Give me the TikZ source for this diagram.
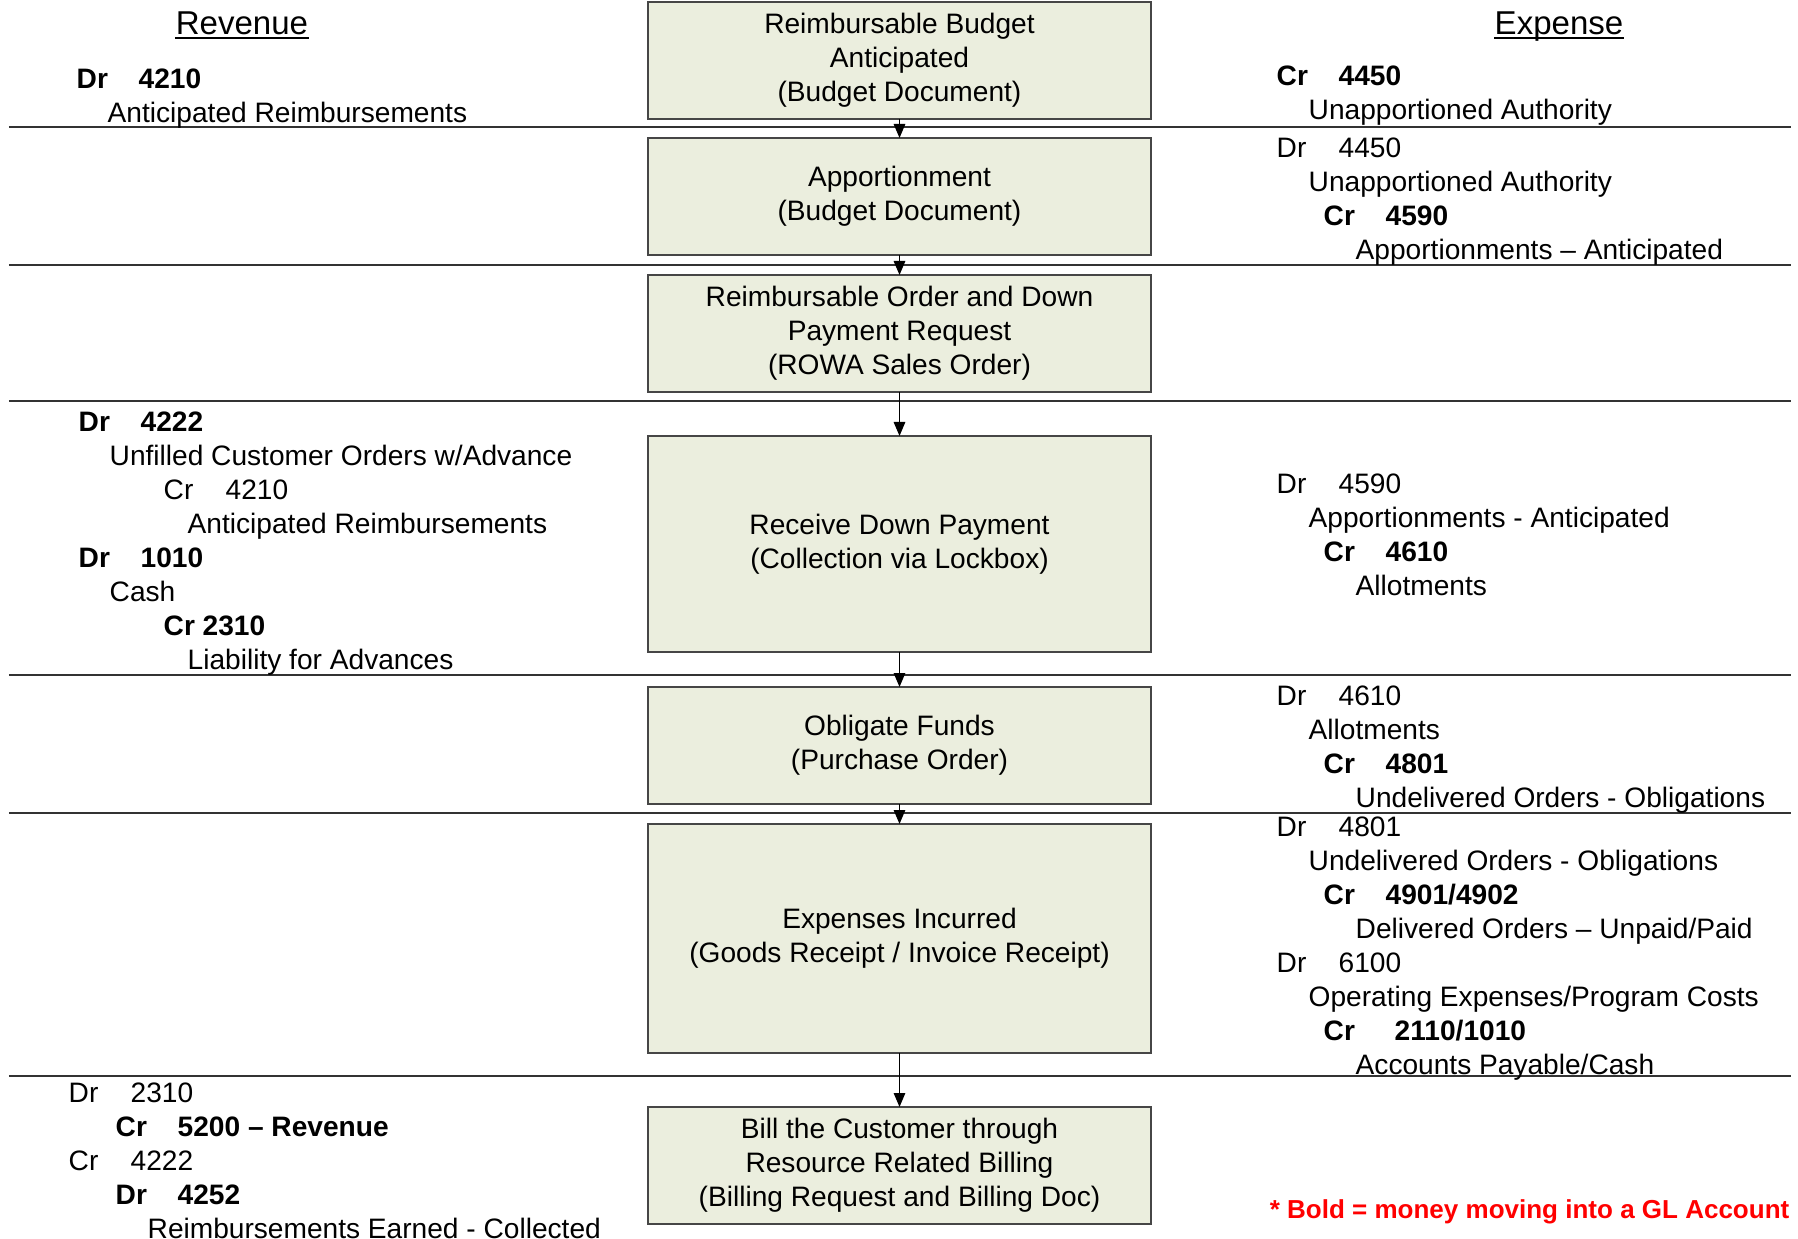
\documentclass[tikz,border=0pt]{standalone}
\usepackage{fontspec}
\setmainfont{Liberation Sans}
\usepackage{xcolor}
\usetikzlibrary{
  positioning,
  arrows.meta
}

\definecolor{boxfill}{RGB}{235,238,222}
\definecolor{boxline}{RGB}{70,70,70}
\newcommand{\dc}[3][6.2mm]{\makebox[#1][l]{#2}#3}
\newcommand{\ind}[1]{\hspace*{#1}}

\begin{document}
\begin{tikzpicture}[
  stepbox/.style={draw=boxline, line width=0.4pt, fill=boxfill, rectangle, minimum width=5.03cm, minimum height=1.17cm, inner sep=1pt, outer sep=0pt, align=center, font=\fontsize{8}{9.67}\selectfont},
  entry/.style={anchor=north west, inner sep=0pt, align=left, font=\fontsize{8}{9.67}\selectfont},
  header/.style={anchor=base, inner sep=0pt, font=\fontsize{9.4}{11}\selectfont},
  uline/.style={line width=0.4pt},
  note/.style={anchor=east, inner sep=0pt, text=red, font=\fontsize{7.4}{9}\selectfont\bfseries},
  sep/.style={draw=black!80, line width=0.45pt},
  arrow/.style={line width=0.4pt, -{Triangle[length=1.4mm, width=1.15mm]}}
]
\useasboundingbox (0,0) rectangle (17.98,-12.39);

% Process steps
\node[stepbox] (budget) at (8.995,-0.605) {Reimbursable Budget\\Anticipated\\(Budget Document)};
\node[stepbox, below=0.19cm of budget] (apport) {Apportionment\\(Budget Document)};
\node[stepbox, below=0.20cm of apport] (order) {Reimbursable Order and Down\\Payment Request\\(ROWA Sales Order)};
\node[stepbox, below=0.44cm of order, minimum height=2.16cm] (downpay) {Receive Down Payment\\(Collection via Lockbox)};
\node[stepbox, below=0.35cm of downpay] (oblig) {Obligate Funds\\(Purchase Order)};
\node[stepbox, below=0.20cm of oblig, minimum height=2.29cm] (expinc) {Expenses Incurred\\(Goods Receipt / Invoice Receipt)};
\node[stepbox, below=0.54cm of expinc] (bill) {Bill the Customer through\\Resource Related Billing\\(Billing Request and Billing Doc)};

% Row separators
\foreach \y in {1.27, 2.65, 4.01, 6.75, 8.13, 10.76}
  \draw[sep] (0.09,-\y) -- (17.91,-\y);

% Arrows
\draw[arrow] (budget) -- (apport);
\draw[arrow] (apport) -- (order);
\draw[arrow] (order) -- (downpay);
\draw[arrow] (downpay) -- (oblig);
\draw[arrow] (oblig) -- (expinc);
\draw[arrow] (expinc) -- (bill);

% Headers
\node[header] (revhead) at (2.42,-0.35) {Revenue};
\node[header] (exphead) at (15.59,-0.35) {Expense};
\draw[uline] ([yshift=-0.03cm]revhead.base west) -- ([yshift=-0.03cm]revhead.base east);
\draw[uline] ([yshift=-0.03cm]exphead.base west) -- ([yshift=-0.03cm]exphead.base east);

% Revenue entries
\node[entry] (rev1) at (0.76,-0.68) {\textbf{\dc{Dr}{4210}}\\\ind{3.1mm}Anticipated Reimbursements};
\node[entry] (rev4) at (0.78,-4.11) {\textbf{\dc{Dr}{4222}}\\
  \ind{3.1mm}Unfilled Customer Orders w/Advance\\
  \ind{8.5mm}\dc{Cr}{4210}\\
  \ind{10.9mm}Anticipated Reimbursements\\
  \textbf{\dc{Dr}{1010}}\\
  \ind{3.1mm}Cash\\
  \ind{8.5mm}\textbf{Cr 2310}\\
  \ind{10.9mm}Liability for Advances};
\node[entry] (rev7) at (0.68,-10.82) {\dc{Dr}{2310}\\
  \ind{4.7mm}\textbf{\dc{Cr}{5200 – Revenue}}\\
  \dc{Cr}{4222}\\
  \ind{4.7mm}\textbf{\dc{Dr}{4252}}\\
  \ind{7.9mm}Reimbursements Earned - Collected};

% Expense entries
\node[entry] (exp1) at (12.76,-0.65) {\textbf{\dc{Cr}{4450}}\\\ind{3.2mm}Unapportioned Authority};
\node[entry] (exp2) at (12.76,-1.37) {\dc{Dr}{4450}\\
  \ind{3.2mm}Unapportioned Authority\\
  \ind{4.7mm}\textbf{\dc{Cr}{4590}}\\
  \ind{7.9mm}Apportionments – Anticipated};
\node[entry] (exp4) at (12.76,-4.73) {\dc{Dr}{4590}\\
  \ind{3.2mm}Apportionments - Anticipated\\
  \ind{4.7mm}\textbf{\dc{Cr}{4610}}\\
  \ind{7.9mm}Allotments};
\node[entry] (exp5) at (12.76,-6.85) {\dc{Dr}{4610}\\
  \ind{3.2mm}Allotments\\
  \ind{4.7mm}\textbf{\dc{Cr}{4801}}\\
  \ind{7.9mm}Undelivered Orders - Obligations};
\node[entry] (exp6) at (12.76,-8.16) {\dc{Dr}{4801}\\
  \ind{3.2mm}Undelivered Orders - Obligations\\
  \ind{4.7mm}\textbf{\dc{Cr}{4901/4902}}\\
  \ind{7.9mm}Delivered Orders – Unpaid/Paid\\
  \dc{Dr}{6100}\\
  \ind{3.2mm}Operating Expenses/Program Costs\\
  \ind{4.7mm}\textbf{\dc[7.1mm]{Cr}{2110/1010}}\\
  \ind{7.9mm}Accounts Payable/Cash};

% Note
\node[note] (legend) at (17.90,-12.12) {* Bold = money moving into a GL Account};

\end{tikzpicture}
\end{document}
